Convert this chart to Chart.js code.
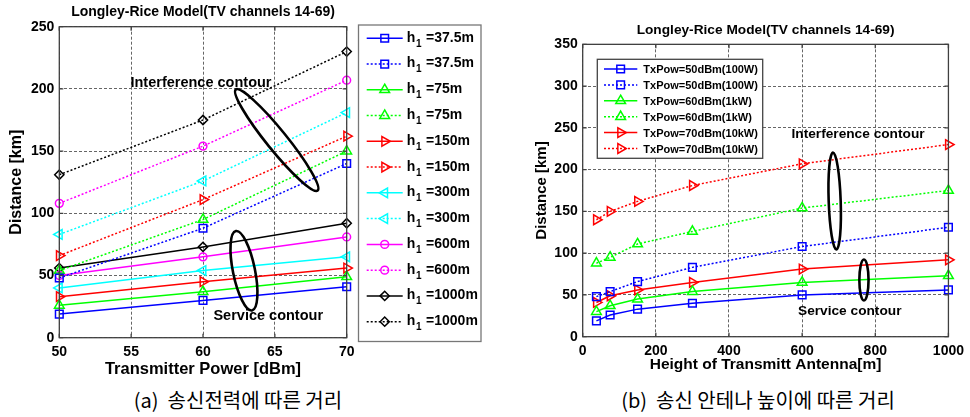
<!DOCTYPE html>
<html><head><meta charset="utf-8">
<script src="https://cdn.jsdelivr.net/npm/chart.js@4.4.1/dist/chart.umd.min.js"></script>
<style>
html,body{margin:0;padding:0;background:#fff;}
body{width:970px;height:417px;position:relative;overflow:hidden;}
.c{position:absolute;top:0;height:385px;width:485px;}
#wa{left:0;}
#wb{left:485px;}
.cap{position:absolute;font-family:"Noto Sans CJK KR","Noto Sans",sans-serif;font-size:20px;color:#000;white-space:pre;transform:translateX(-50%);line-height:1;}
</style></head><body>
<div class="c" id="wa"><canvas id="ca"></canvas></div>
<div class="c" id="wb"><canvas id="cb"></canvas></div>
<div class="cap" style="left:238px;top:390px">(a)  송신전력에 따른 거리</div>
<div class="cap" style="left:758px;top:390px">(b)  송신 안테나 높이에 따른 거리</div>
<script>
// ---- data ----
const heights = [37.5, 75, 150, 300, 600, 1000];        // antenna height h1 [m]
const heightLabels = ['37.5', '75', '150', '300', '600', '1000'];
const powers = [50, 60, 70];                              // transmitter power [dBm]
const powerLabels = ['TxPow=50dBm(100W)', 'TxPow=60dBm(1kW)', 'TxPow=70dBm(10kW)'];
// service contour distance [km] per height, for each power
const service50 = [19, 26, 33, 40, 50, 56];
const service60 = [30, 37, 45, 54, 65, 73];
const service70 = [41, 49, 56, 65, 81, 92];
// interference contour distance [km] per height, for each power
const interf50 = [48, 54, 66, 83, 108, 131];
const interf60 = [88, 95, 111, 126, 154, 175];
const interf70 = [140, 150, 162, 181, 207, 230];
const titleText = 'Longley-Rice Model(TV channels 14-69)';

const serviceByPower = [service50, service60, service70];
const interfByPower = [interf50, interf60, interf70];

// ---- styles ----
const FF = '"Liberation Sans", Arial, Helvetica, sans-serif';
Chart.defaults.font.family = FF;
Chart.defaults.color = '#000';
const heightColors = ['#0000ff', '#00ff00', '#ff0000', '#00ffff', '#ff00ff', '#000000'];
const heightMarkers = [
  {style: 'rect', rot: 0, r: 5.4},
  {style: 'triangle', rot: 0, r: 5.6},
  {style: 'triangle', rot: 90, r: 5.6},
  {style: 'triangle', rot: -90, r: 5.6},
  {style: 'circle', rot: 0, r: 3.9},
  {style: 'rectRot', rot: 0, r: 4.6}
];
const powerColors = ['#0000ff', '#00ff00', '#ff0000'];
const powerMarkers = [heightMarkers[0], heightMarkers[1], heightMarkers[2]];
const DOT = [2, 2];

function mkDs(label, pts, color, mk, dotted) {
  return {
    label, data: pts, borderColor: color, backgroundColor: color,
    borderWidth: 1.5, borderDash: dotted ? DOT : [],
    pointStyle: mk.style, pointRotation: mk.rot, pointRadius: mk.r, pointHoverRadius: mk.r,
    pointBorderColor: color, pointBackgroundColor: 'rgba(0,0,0,0)', pointBorderWidth: 1.5,
    tension: 0, clip: false
  };
}

const dsA = [];
heights.forEach((h, i) => {
  dsA.push(mkDs('h1 =' + heightLabels[i] + 'm', powers.map((p, j) => ({x: p, y: serviceByPower[j][i]})), heightColors[i], heightMarkers[i], false));
  dsA.push(mkDs('h1 =' + heightLabels[i] + 'm', powers.map((p, j) => ({x: p, y: interfByPower[j][i]})), heightColors[i], heightMarkers[i], true));
});
const dsB = [];
powers.forEach((p, j) => {
  dsB.push(mkDs(powerLabels[j], heights.map((h, i) => ({x: h, y: serviceByPower[j][i]})), powerColors[j], powerMarkers[j], false));
  dsB.push(mkDs(powerLabels[j], heights.map((h, i) => ({x: h, y: interfByPower[j][i]})), powerColors[j], powerMarkers[j], true));
});

function drawMarker(ctx, style, rot, r, x, y) {
  ctx.beginPath();
  let a = rot * Math.PI / 180;
  if (style === 'circle') ctx.arc(x, y, r, 0, 2 * Math.PI);
  else if (style === 'rect') { const s = r * Math.SQRT1_2; ctx.rect(x - s, y - s, 2 * s, 2 * s); }
  else if (style === 'rectRot') { ctx.moveTo(x - r, y); ctx.lineTo(x, y - r); ctx.lineTo(x + r, y); ctx.lineTo(x, y + r); ctx.closePath(); }
  else if (style === 'triangle') {
    ctx.moveTo(x + Math.sin(a) * r, y - Math.cos(a) * r); a += 2 * Math.PI / 3;
    ctx.lineTo(x + Math.sin(a) * r, y - Math.cos(a) * r); a += 2 * Math.PI / 3;
    ctx.lineTo(x + Math.sin(a) * r, y - Math.cos(a) * r); ctx.closePath();
  }
  ctx.stroke();
}

const extras = {
  id: 'extras',
  afterDatasetsDraw(chart, args, o) {
    const ctx = chart.ctx, xs = chart.scales.x, ys = chart.scales.y, a = chart.chartArea;
    ctx.save();
    ctx.setLineDash([]);
    // axes box + inward ticks
    ctx.strokeStyle = '#404040'; ctx.lineWidth = 1.3;
    ctx.strokeRect(a.left, a.top, a.right - a.left, a.bottom - a.top);
    ctx.beginPath();
    xs.ticks.forEach(t => { const px = xs.getPixelForValue(t.value); ctx.moveTo(px, a.bottom); ctx.lineTo(px, a.bottom - 4); ctx.moveTo(px, a.top); ctx.lineTo(px, a.top + 4); });
    ys.ticks.forEach(t => { const py = ys.getPixelForValue(t.value); ctx.moveTo(a.left, py); ctx.lineTo(a.left + 4, py); ctx.moveTo(a.right, py); ctx.lineTo(a.right - 4, py); });
    ctx.stroke();
    // contour ellipses
    ctx.strokeStyle = '#000'; ctx.lineWidth = 2.6;
    o.ellipses.forEach(e => {
      ctx.beginPath();
      ctx.ellipse(xs.getPixelForValue(e.x), ys.getPixelForValue(e.y), e.a, e.b, e.angle * Math.PI / 180, 0, 2 * Math.PI);
      ctx.stroke();
    });
    // annotation texts
    ctx.fillStyle = '#000'; ctx.textAlign = 'center'; ctx.textBaseline = 'alphabetic';
    o.texts.forEach(t => { ctx.font = t.font; ctx.fillText(t.text, xs.getPixelForValue(t.x), ys.getPixelForValue(t.y)); });
    // legend
    const L = o.legend;
    ctx.fillStyle = '#fff'; ctx.fillRect(L.x, L.y, L.w, L.h);
    ctx.strokeStyle = L.border; ctx.lineWidth = 1.3; ctx.strokeRect(L.x, L.y, L.w, L.h);
    chart.data.datasets.forEach((ds, i) => {
      const y = L.row0 + i * L.step;
      ctx.strokeStyle = ds.borderColor; ctx.lineWidth = ds.borderWidth;
      ctx.setLineDash(ds.borderDash);
      ctx.beginPath(); ctx.moveTo(L.lx0, y); ctx.lineTo(L.lx1, y); ctx.stroke();
      ctx.setLineDash([]); ctx.lineWidth = ds.pointBorderWidth;
      drawMarker(ctx, ds.pointStyle, ds.pointRotation, ds.pointRadius, (L.lx0 + L.lx1) / 2, y);
      ctx.fillStyle = '#000'; ctx.textAlign = 'left'; ctx.textBaseline = 'alphabetic';
      if (L.sub) {
        const rest = ds.label.slice(2);
        ctx.font = L.font; ctx.fillText('h', L.tx, y + L.base);
        ctx.font = L.subFont; ctx.fillText('1', L.tx + 9.4, y + L.base + 5);
        ctx.font = L.font; ctx.fillText(rest, L.tx + 15.5, y + L.base);
      } else {
        ctx.font = L.font; ctx.fillText(ds.label, L.tx, y + L.base);
      }
    });
    ctx.restore();
  }
};

const plainTick = v => String(v);

function scaleX(min, max, step, title, tFont, tPad, axisH) {
  return {
    type: 'linear', min, max,
    ticks: {stepSize: step, font: {size: 14, weight: 'bold'}, color: '#000', padding: 6, maxRotation: 0, callback: plainTick},
    grid: {color: '#666', lineWidth: 1, drawTicks: false},
    border: {display: false, dash: [3, 2]},
    title: {display: true, text: title, font: {size: tFont, weight: 'bold'}, color: '#000', padding: {top: 0, bottom: tPad}},
    afterFit(s) { s.height = axisH; }
  };
}
function scaleY(min, max, step, tFont, tPad, axisW) {
  return {
    type: 'linear', min, max,
    ticks: {stepSize: step, font: {size: 14, weight: 'bold'}, color: '#000', padding: 5, callback: plainTick},
    grid: {color: '#666', lineWidth: 1, drawTicks: false},
    border: {display: false, dash: [3, 2]},
    title: {display: true, text: 'Distance [km]', font: {size: tFont, weight: 'bold'}, color: '#000', padding: {top: tPad, bottom: 0}},
    afterFit(s) { s.width = axisW; }
  };
}

new Chart(document.getElementById('ca'), {
  type: 'line',
  data: {datasets: dsA},
  plugins: [extras],
  options: {
    responsive: true, maintainAspectRatio: false, animation: false,
    layout: {padding: {left: 0, right: 138.3, top: 0, bottom: 0}},
    scales: {
      x: scaleX(50, 70, 5, 'Transmitter Power [dBm]', 16.5, 6.1, 47.3),
      y: scaleY(0, 250, 50, 16, 6.7, 59.3)
    },
    plugins: {
      legend: {display: false}, tooltip: {enabled: false},
      title: {display: true, text: titleText, fullSize: false, font: {size: 14, weight: 'bold'}, color: '#000', padding: {top: 3.6, bottom: 6.3}},
      extras: {
        ellipses: [
          {x: 65.13, y: 158.9, a: 65, b: 10, angle: 51},
          {x: 62.85, y: 53.8, a: 40.5, b: 11, angle: 78.5}
        ],
        texts: [
          {text: 'Interference contour', x: 59.86, y: 201.3, font: 'bold 14.5px ' + FF},
          {text: 'Service contour', x: 64.54, y: 14.2, font: 'bold 14.5px ' + FF}
        ],
        legend: {x: 358.5, y: 25, w: 122.5, h: 316.5, border: '#777', row0: 38.3, step: 25.76, lx0: 366.7, lx1: 402.7, tx: 406.7, base: 3.4, sub: true,
          font: 'bold 14px ' + FF, subFont: 'bold 10px ' + FF}
      }
    }
  }
});

new Chart(document.getElementById('cb'), {
  type: 'line',
  data: {datasets: dsB},
  plugins: [extras],
  options: {
    responsive: true, maintainAspectRatio: false, animation: false,
    layout: {padding: {left: 0, right: 16.7, top: 0, bottom: 0}},
    scales: {
      x: scaleX(0, 1000, 200, 'Height of Transmitt Antenna[m]', 15.5, 10.7, 48.3),
      y: scaleY(0, 350, 50, 15, 47.5, 97.7)
    },
    plugins: {
      legend: {display: false}, tooltip: {enabled: false},
      title: {display: true, text: titleText, fullSize: false, font: {size: 13.7, weight: 'bold'}, color: '#000', padding: {top: 21.6, bottom: 6.3}},
      extras: {
        ellipses: [
          {x: 689, y: 162.4, a: 48.5, b: 6, angle: 88},
          {x: 769, y: 67.9, a: 20.5, b: 4.6, angle: 90}
        ],
        texts: [
          {text: 'Interference contour', x: 752.8, y: 237.5, font: 'bold 13.7px ' + FF},
          {text: 'Service contour', x: 730.2, y: 26, font: 'bold 13.7px ' + FF}
        ],
        legend: {x: 112.3, y: 59.3, w: 165.4, h: 99, border: '#444', row0: 69, step: 15.9, lx0: 119, lx1: 152.3, tx: 158.3, base: 4, sub: false,
          font: 'bold 11px ' + FF}
      }
    }
  }
});
</script>
</body></html>
